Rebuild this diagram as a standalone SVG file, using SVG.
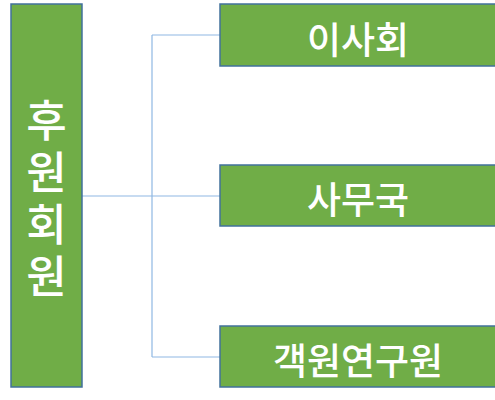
<svg xmlns="http://www.w3.org/2000/svg" width="495" height="400" viewBox="0 0 495 400">
<style>
.box{fill:#70AD47;stroke:#41719C;stroke-width:1.5}
.t{fill:#fff;font-family:"Noto Sans CJK KR","Noto Sans",sans-serif;font-weight:500;text-anchor:middle;dominant-baseline:central}
.v{fill:#fff;font-family:"Noto Sans CJK KR","Noto Sans",sans-serif;font-weight:500;writing-mode:vertical-rl;text-orientation:upright;letter-spacing:8px}
.c{fill:none;stroke:#8FB8E3;stroke-width:1.2}
</style>
<rect width="495" height="400" fill="#fff"/>
<g id="connectors">
<path class="c" d="M82 196H220M152 35V357M152 35H220M152 357H220"/>
</g>
<g id="n-huwonhoewon">
<rect class="box" x="11" y="4" width="71" height="383"/>
<text class="v" font-size="44" x="46.5" y="98">후원회원</text>
</g>
<g id="n-isahoe">
<rect class="box" x="220" y="4" width="280" height="62"/>
<text class="t" font-size="37" x="358" y="38">이사회</text>
</g>
<g id="n-samuguk">
<rect class="box" x="220" y="165" width="280" height="61"/>
<text class="t" font-size="37" x="358" y="198">사무국</text>
</g>
<g id="n-gaegwon">
<rect class="box" x="220" y="326" width="280" height="61"/>
<text class="t" font-size="37" x="358" y="359">객원연구원</text>
</g>
</svg>
